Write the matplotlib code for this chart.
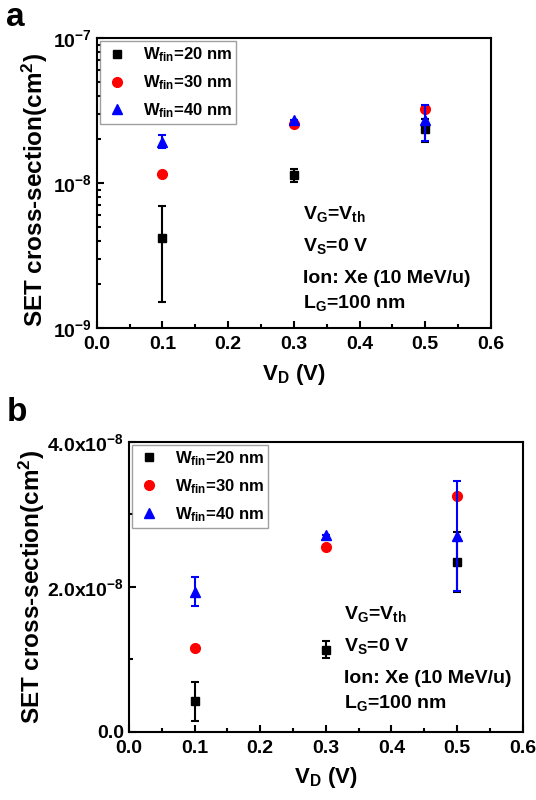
import matplotlib
matplotlib.use("Agg")
import matplotlib.pyplot as plt
import numpy as np
from matplotlib.lines import Line2D
from matplotlib.ticker import FixedLocator, LogLocator, NullFormatter, FuncFormatter

plt.rcParams['font.family'] = ['Liberation Sans', 'DejaVu Sans']
plt.rcParams['font.weight'] = 'bold'
plt.rcParams['mathtext.fontset'] = 'custom'
plt.rcParams['mathtext.rm'] = 'Liberation Sans:bold'
plt.rcParams['mathtext.it'] = 'Liberation Sans:bold'
plt.rcParams['mathtext.bf'] = 'Liberation Sans:bold'
plt.rcParams['mathtext.default'] = 'bf'

vd = [0.1, 0.3, 0.5]
w20 = [0.42e-8, 1.13e-8, 2.34e-8]
w20_err = [0.27e-8, 0.12e-8, 0.41e-8]
w30 = [1.16e-8, 2.55e-8, 3.25e-8]
w40 = [1.93e-8, 2.71e-8, 2.70e-8]
w40_err = [0.20e-8, 0.0, 0.76e-8]

labels = [r'W$_{\mathregular{fin}}$=20 nm', r'W$_{\mathregular{fin}}$=30 nm', r'W$_{\mathregular{fin}}$=40 nm']
notes = [r'V$_{\mathregular{G}}$=V$_{\mathregular{th}}$', r'V$_{\mathregular{S}}$=0 V',
         'Ion: Xe (10 MeV/u)', r'L$_{\mathregular{G}}$=100 nm']

fig = plt.figure(figsize=(5.36, 8), dpi=100)
axa = fig.add_axes([0.1804, 0.59, 0.7357, 0.3625])
axb = fig.add_axes([0.2407, 0.0854, 0.7345, 0.3625])

def draw(ax):
    ax.errorbar(vd, w20, yerr=w20_err, fmt='s', color='black', ms=6, capsize=3,
                elinewidth=1.5, capthick=1.5, zorder=3)
    ax.plot(vd, w30, 'o', color='red', ms=7, zorder=4)
    ax.errorbar(vd, w40, yerr=w40_err, fmt='^', color='blue', ms=7, capsize=3,
                elinewidth=1.5, capthick=1.5, zorder=5)
    ax.set_xlim(0, 0.6)
    ax.set_xticks(np.arange(0, 0.61, 0.1))
    ax.xaxis.set_minor_locator(FixedLocator(np.arange(0.05, 0.6, 0.1)))
    ax.xaxis.set_major_formatter(FuncFormatter(lambda v, p: f'{v:.1f}'))
    ax.tick_params(which='both', direction='in', top=False, right=False, labelsize=14, width=1.5)
    ax.tick_params(axis='x', which='major', pad=6)
    ax.tick_params(which='major', length=5)
    ax.tick_params(which='minor', length=3)
    for s in ax.spines.values():
        s.set_linewidth(1.5)
    ax.set_xlabel(r'V$_{\mathregular{D}}$ (V)', fontsize=16, fontweight='bold', labelpad=6)
    handles = [Line2D([], [], ls='none', marker='s', color='black', ms=6),
               Line2D([], [], ls='none', marker='o', color='red', ms=7),
               Line2D([], [], ls='none', marker='^', color='blue', ms=7)]
    leg = ax.legend(handles, labels, loc='upper left', fontsize=12, frameon=True, fancybox=False,
                    edgecolor='#888888', handletextpad=0.8, borderpad=0.25,
                    labelspacing=0.55, handlelength=1.5, borderaxespad=0.2)
    leg.get_frame().set_linewidth(1.0)

draw(axa)
axa.set_yscale('log')
axa.set_ylim(1e-9, 1e-7)
axa.yaxis.set_major_locator(LogLocator(base=10, numticks=5))
axa.yaxis.set_minor_locator(LogLocator(base=10, subs=np.arange(2, 10), numticks=20))
axa.yaxis.set_minor_formatter(NullFormatter())
axa.yaxis.set_major_formatter(FuncFormatter(lambda v, p: r'10$^{\mathregular{%d}}$' % int(round(np.log10(v)))))
axa.set_ylabel(r'SET cross-section(cm$^{\mathregular{2}}$)', fontsize=17.5, fontweight='bold')
axa.yaxis.set_label_coords(-0.118, 0.476)

draw(axb)
axb.set_ylim(0, 4e-8)
axb.set_yticks([0, 2e-8, 4e-8])
axb.yaxis.set_minor_locator(FixedLocator([1e-8, 3e-8]))
axb.yaxis.set_major_formatter(FuncFormatter(lambda v, p: '0.0' if v == 0 else r'%.1fx10$^{\mathregular{-8}}$' % (v / 1e-8)))
axb.set_ylabel(r'SET cross-section(cm$^{\mathregular{2}}$)', fontsize=17.5, fontweight='bold')
axb.yaxis.set_label_coords(-0.208, 0.499)

for ax, x0, ys in [(axa, 0.523, [0.376, 0.266, 0.154, 0.068]),
                   (axb, 0.547, [0.389, 0.278, 0.167, 0.081])]:
    for t, y in zip(notes, ys):
        ax.text(x0, y, t, transform=ax.transAxes, fontsize=14, fontweight='bold', va='baseline')

fig.text(0.012, 0.978, 'a', fontsize=24, fontweight='bold', va='center')
fig.text(0.012, 0.484, 'b', fontsize=24, fontweight='bold', va='center')

fig.savefig('out.png', dpi=100)
